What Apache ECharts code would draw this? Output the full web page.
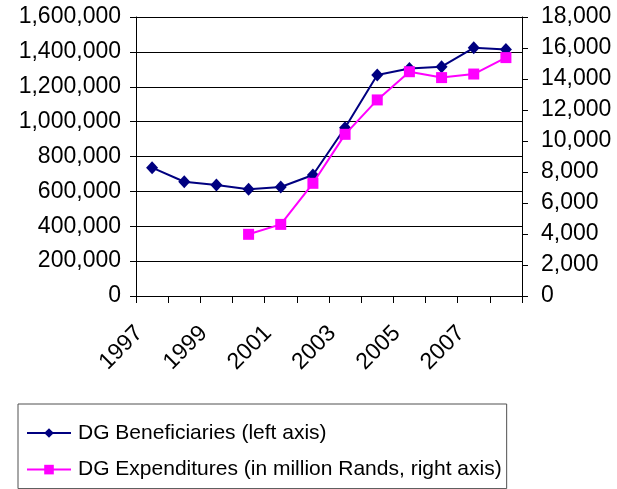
<!DOCTYPE html>
<html>
<head>
<meta charset="utf-8">
<script src="https://cdn.jsdelivr.net/npm/echarts@6/dist/echarts.min.js"></script>
<style>
  html, body { margin: 0; padding: 0; background: #fff; }
  #chart { width: 617px; height: 489px; }
</style>
</head>
<body>
<div id="chart"></div>
<script>
// Disability Grant: beneficiaries (left axis) and expenditure in million Rands (right axis)
const years = ['1997', '1998', '1999', '2000', '2001', '2002', '2003', '2004', '2005', '2006', '2007', '2008'];
const beneficiaries = [736000, 655000, 637000, 612000, 625000, 694000, 965000, 1267000, 1305000, 1315000, 1423000, 1414000];
const expenditures = [null, null, null, 3980, 4620, 7270, 10430, 12650, 14470, 14090, 14320, 15380];

const leftTicks = { min: 0, max: 1600000, interval: 200000 };
const rightTicks = { min: 0, max: 18000, interval: 2000 };

const FONT = "'Liberation Sans', Arial, sans-serif";
const fmt = v => Number(v).toLocaleString('en-US');

const chart = echarts.init(document.getElementById('chart'), null, { renderer: 'canvas' });

chart.setOption({
  animation: false,
  backgroundColor: '#ffffff',
  textStyle: { fontFamily: FONT, color: '#000' },
  grid: { left: 136, right: 95, top: 17, bottom: 193, containLabel: false },
  legend: {
    orient: 'vertical',
    left: 18,
    top: 404,
    padding: [17, 5, 7, 8],
    itemGap: 12.6,
    itemWidth: 44,
    itemHeight: 12,
    borderColor: '#505050',
    borderWidth: 1,
    selectedMode: false,
    textStyle: { fontFamily: FONT, fontSize: 21, color: '#000', lineHeight: 24, padding: [0, 0, 0, 2] },
    data: ['DG Beneficiaries (left axis)', 'DG Expenditures (in million Rands, right axis)']
  },
  xAxis: {
    type: 'category',
    data: years,
    boundaryGap: true,
    axisLine: { lineStyle: { color: '#000', width: 1 } },
    axisTick: { show: true, interval: 0, length: 7, lineStyle: { color: '#000' } },
    axisLabel: {
      interval: 1,
      rotate: 45,
      margin: 21,
      padding: [0, 18, 0, 0],
      fontSize: 23,
      fontFamily: FONT,
      color: '#000'
    },
    splitLine: { show: false }
  },
  yAxis: [
    {
      type: 'value',
      position: 'left',
      min: leftTicks.min,
      max: leftTicks.max,
      interval: leftTicks.interval,
      axisLine: { show: true, lineStyle: { color: '#000', width: 1 } },
      axisTick: { show: true, length: 6, lineStyle: { color: '#000' } },
      axisLabel: { formatter: fmt, fontSize: 23, fontFamily: FONT, color: '#000', margin: 15 },
      splitLine: { show: true, lineStyle: { color: '#000', width: 1 } }
    },
    {
      type: 'value',
      position: 'right',
      min: rightTicks.min,
      max: rightTicks.max,
      interval: rightTicks.interval,
      axisLine: { show: true, lineStyle: { color: '#000', width: 1 } },
      axisTick: { show: true, length: 6, lineStyle: { color: '#000' } },
      axisLabel: { formatter: fmt, fontSize: 23, fontFamily: FONT, color: '#000', margin: 19 },
      splitLine: { show: false }
    }
  ],
  series: [
    {
      name: 'DG Beneficiaries (left axis)',
      type: 'line',
      yAxisIndex: 0,
      data: beneficiaries,
      symbol: 'diamond',
      symbolSize: [12, 13],
      showAllSymbol: true,
      lineStyle: { color: '#000080', width: 2 },
      itemStyle: { color: '#000080' },
      z: 3
    },
    {
      name: 'DG Expenditures (in million Rands, right axis)',
      type: 'line',
      yAxisIndex: 1,
      data: expenditures,
      symbol: 'rect',
      symbolSize: 11,
      showAllSymbol: true,
      lineStyle: { color: '#ff00ff', width: 2 },
      itemStyle: { color: '#ff00ff' },
      z: 4
    }
  ]
});
</script>
</body>
</html>
